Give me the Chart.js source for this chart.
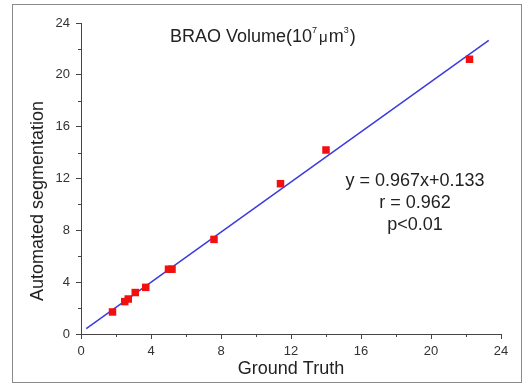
<!DOCTYPE html>
<html lang="en-US">
<head>
  <meta charset="utf-8">
  <title>BRAO Volume</title>
  <script src="https://cdn.jsdelivr.net/npm/chart.js@4.4.1/dist/chart.umd.min.js"></script>
  <style>
    html, body { margin: 0; padding: 0; background: #fff; }
    #frame {
      position: absolute; left: 12px; top: 4px; width: 508px; height: 377px;
      border: 1.5px solid #8a8a8a;
    }
    #holder { position: absolute; left: 0; top: 0; width: 528px; height: 388px; }
  </style>
</head>
<body>
  <div id="frame"></div>
  <div id="holder"><canvas id="chart" width="528" height="388"></canvas></div>
  <script>
    // measured points (ground truth vs automated)
    const groundTruth = [1.8, 2.5, 2.7, 3.1, 3.7, 5.0, 5.2, 7.6, 11.4, 14.0, 22.2];
    const automated   = [1.7, 2.5, 2.7, 3.2, 3.6, 5.0, 5.0, 7.3, 11.6, 14.2, 21.2];
    // fitted line ends
    const fitX = [0.3, 23.3];
    const fitY = [0.42, 22.66];
    const axisTicks = [0, 4, 8, 12, 16, 20, 24];
    const minorTicks = [2, 6, 10, 14, 18, 22];
    const statsText = ['y = 0.967x+0.133', 'r = 0.962', 'p<0.01'];

    const FONT = '"Liberation Sans", Arial, sans-serif';
    const axisColor = '#444';

    const decorations = {
      id: 'decorations',
      afterDraw(chart) {
        const { ctx, scales: { x, y }, chartArea } = chart;
        ctx.save();

        // minor ticks
        ctx.strokeStyle = axisColor;
        ctx.lineWidth = 1;
        ctx.beginPath();
        minorTicks.forEach(v => {
          const px = Math.round(x.getPixelForValue(v)) + 0.5;
          ctx.moveTo(px, chartArea.bottom);
          ctx.lineTo(px, chartArea.bottom + 3);
          const py = Math.round(y.getPixelForValue(v)) + 0.5;
          ctx.moveTo(chartArea.left, py);
          ctx.lineTo(chartArea.left - 3, py);
        });
        ctx.stroke();

        // title with superscripts
        ctx.fillStyle = '#222';
        ctx.textBaseline = 'alphabetic';
        ctx.textAlign = 'left';
        let tx = 170;
        const ty = 42;
        const part = (s, size, dy) => {
          ctx.font = size + 'px ' + FONT;
          ctx.fillText(s, tx, ty + dy);
          tx += ctx.measureText(s).width;
        };
        part('BRAO Volume(10', 18, 0);
        part('7', 9, -9);
        tx += 2;
        part('\u03bc', 15, 0);
        tx += 1;
        part('m', 18, 0);
        part('3', 9, -9);
        tx += 1;
        part(')', 18, 0);

        // y axis title
        ctx.save();
        ctx.translate(38, 201);
        ctx.rotate(-Math.PI / 2);
        ctx.textAlign = 'center';
        ctx.textBaseline = 'middle';
        ctx.font = '18px ' + FONT;
        ctx.fillStyle = '#222';
        ctx.fillText('Automated segmentation', 0, 0);
        ctx.restore();

        // regression stats
        ctx.textAlign = 'center';
        ctx.textBaseline = 'middle';
        ctx.font = '18px ' + FONT;
        ctx.fillStyle = '#222';
        statsText.forEach((s, i) => ctx.fillText(s, 415, 181 + i * 22));

        ctx.restore();
      }
    };

    const config = {
      type: 'scatter',
      data: {
        datasets: [
          {
            label: 'fit',
            data: fitX.map((v, i) => ({ x: v, y: fitY[i] })),
            showLine: true,
            borderColor: '#3b3be0',
            borderWidth: 1.5,
            pointRadius: 0,
            order: 2
          },
          {
            label: 'cases',
            data: groundTruth.map((v, i) => ({ x: v, y: automated[i] })),
            pointStyle: 'rect',
            pointRadius: 5.3,
            backgroundColor: '#f01010',
            borderColor: '#f01010',
            borderWidth: 0,
            order: 1
          }
        ]
      },
      options: {
        responsive: false,
        animation: false,
        layout: { padding: { left: 0, top: 23, right: 27, bottom: 0 } },
        plugins: {
          legend: { display: false },
          tooltip: { enabled: false }
        },
        scales: {
          x: {
            type: 'linear',
            min: 0, max: 24,
            afterBuildTicks: s => { s.ticks = axisTicks.map(v => ({ value: v })); },
            afterFit: s => { s.height = 54; },
            grid: { drawOnChartArea: false, tickLength: 5, tickColor: axisColor },
            border: { color: axisColor, width: 1 },
            ticks: { color: '#333', font: { family: FONT, size: 13 }, padding: 5, maxRotation: 0 },
            title: {
              display: true, text: 'Ground Truth', color: '#222',
              font: { family: FONT, size: 18 }, padding: { top: 0, bottom: 8 }
            }
          },
          y: {
            type: 'linear',
            min: 0, max: 24,
            afterBuildTicks: s => { s.ticks = axisTicks.map(v => ({ value: v })); },
            afterFit: s => { s.width = 81; },
            grid: { drawOnChartArea: false, tickLength: 5, tickColor: axisColor },
            border: { color: axisColor, width: 1 },
            ticks: { color: '#333', font: { family: FONT, size: 13 }, padding: 6 }
          }
        }
      },
      plugins: [decorations]
    };

    window.chart = new Chart(document.getElementById('chart'), config);
  </script>
</body>
</html>
